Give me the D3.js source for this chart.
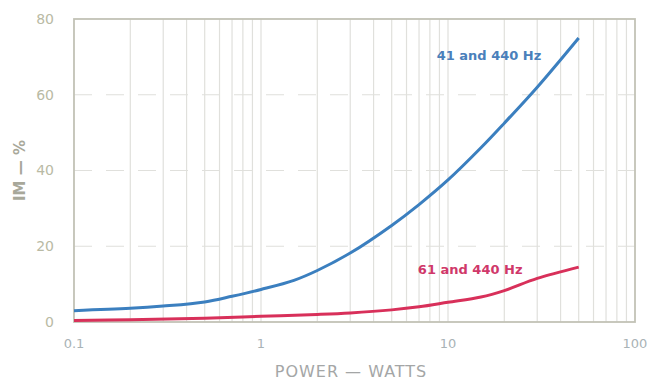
<!DOCTYPE html>
<html>
<head>
<meta charset="utf-8">
<script src="https://cdn.jsdelivr.net/npm/d3@7"></script>
<style>
  body { margin: 0; background: #fff; }
  svg text { font-family: "DejaVu Sans", sans-serif; }
</style>
</head>
<body>
<div id="chart"></div>
<script>
// values
const watts41 = [0.1, 0.2, 0.3, 0.5, 0.7, 1, 1.5, 2, 3, 5, 7, 10, 15, 20, 30, 50];
const im41    = [3, 3.6, 4.2, 5.3, 6.8, 8.6, 11, 13.6, 18.2, 25.5, 31, 37.5, 46, 52.5, 62, 75];
const watts61 = [0.1, 0.2, 0.5, 1, 2, 3, 5, 7, 10, 15, 20, 30, 50];
const im61    = [0.4, 0.6, 1.0, 1.5, 2.0, 2.4, 3.2, 4.0, 5.2, 6.6, 8.3, 11.5, 14.5];
const xTicks = [0.1, 1, 10, 100];
const xTickLabels = ["0.1", "1", "10", "100"];
const yTicks = [0, 20, 40, 60, 80];

const W = 649, H = 382;
const margin = { top: 19, right: 14, bottom: 60, left: 74 },
      width = W - margin.left - margin.right,
      height = H - margin.top - margin.bottom;

const svg = d3.select("#chart").append("svg")
  .attr("width", W).attr("height", H);
const g = svg.append("g")
  .attr("transform", `translate(${margin.left},${margin.top})`);

const x = d3.scaleLog().domain([0.1, 100]).range([0, width]);
const y = d3.scaleLinear().domain([0, 80]).range([height, 0]);

// vertical grid: every 1..9 multiple
const minor = [];
[0.1, 1, 10].forEach(d => { for (let k = 2; k <= 9; k++) minor.push(d * k); });
minor.push(1, 10);
g.selectAll("line.vgrid").data(minor).enter().append("line")
  .attr("class", "vgrid")
  .attr("x1", d => x(d)).attr("x2", d => x(d))
  .attr("y1", 0).attr("y2", height)
  .attr("stroke", "#e0e0dc").attr("stroke-width", 1.2);

// horizontal grid, dashed
g.selectAll("line.hgrid").data([20, 40, 60]).enter().append("line")
  .attr("class", "hgrid")
  .attr("x1", 0).attr("x2", width)
  .attr("y1", d => y(d)).attr("y2", d => y(d))
  .attr("stroke", "#e0e0dc").attr("stroke-width", 1.2)
  .attr("stroke-dasharray", "18,14");

// frame
g.append("rect").attr("width", width).attr("height", height)
  .attr("fill", "none").attr("stroke", "#c2c2b6").attr("stroke-width", 1.8);

// tick labels
g.selectAll("text.ytick").data(yTicks).enter().append("text")
  .attr("class", "ytick")
  .attr("x", -20).attr("y", d => y(d)).attr("dy", "0.35em")
  .attr("text-anchor", "end")
  .attr("fill", "#b9baa4").style("font-size", "14px")
  .text(d => d);

g.selectAll("text.xtick").data(xTicks).enter().append("text")
  .attr("class", "xtick")
  .attr("x", d => x(d)).attr("y", height + 26)
  .attr("text-anchor", "middle")
  .attr("fill", "#a9b3b6").style("font-size", "13px")
  .text((d, i) => xTickLabels[i]);

// axis titles
svg.append("text")
  .attr("transform", `translate(25,${margin.top + height / 2}) rotate(-90)`)
  .attr("text-anchor", "middle")
  .attr("fill", "#a8a89a").style("font-size", "15px").style("font-weight", "bold")
  .text("IM — %");

svg.append("text")
  .attr("x", 351).attr("y", 377)
  .attr("text-anchor", "middle")
  .attr("fill", "#a4a6a6").style("font-size", "16px")
  .style("letter-spacing", "1px")
  .text("POWER — WATTS");

// curves
const line = d3.line()
  .x(d => x(d[0])).y(d => y(d[1]))
  .curve(d3.curveCatmullRom.alpha(0.5));

g.append("path")
  .datum(watts61.map((w, i) => [w, im61[i]]))
  .attr("d", line).attr("fill", "none")
  .attr("stroke", "#d8305a").attr("stroke-width", 3);

g.append("path")
  .datum(watts41.map((w, i) => [w, im41[i]]))
  .attr("d", line).attr("fill", "none")
  .attr("stroke", "#3b7fbf").attr("stroke-width", 3);

// curve labels
g.append("text")
  .attr("x", x(8.7)).attr("y", y(69.2))
  .attr("fill", "#4a80bb").style("font-size", "13px").style("font-weight", "bold")
  .text("41 and 440 Hz");

g.append("text")
  .attr("x", x(6.9)).attr("y", y(12.8))
  .attr("fill", "#d0386a").style("font-size", "13px").style("font-weight", "bold")
  .text("61 and 440 Hz");
</script>
</body>
</html>
